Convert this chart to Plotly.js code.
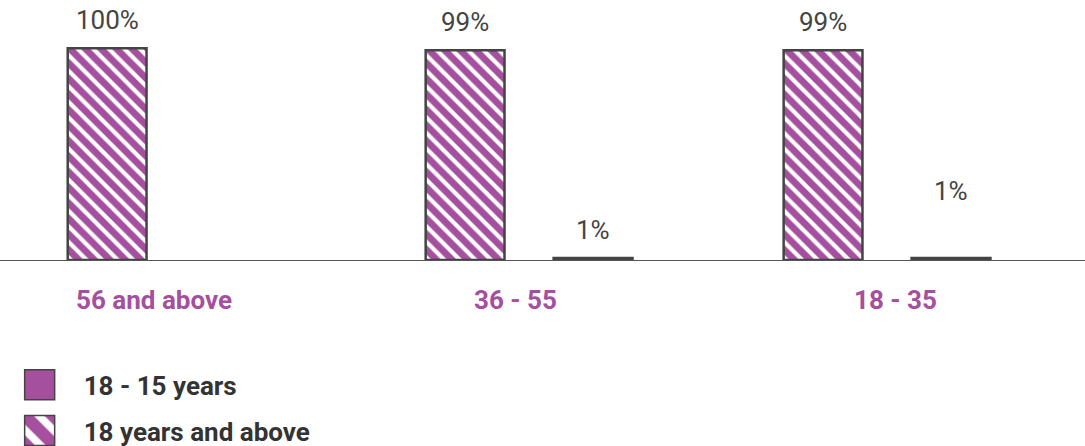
<!DOCTYPE html>
<html>
<head>
<meta charset="utf-8">
<script src="https://cdn.plot.ly/plotly-3.0.1.min.js"></script>
<style>html,body{margin:0;padding:0;background:#fff;}#chart{width:1085px;height:446px;}</style>
</head>
<body>
<div id="chart"></div>
<script>
const categories = ["56 and above", "36 - 55", "18 - 35"];
const seriesNames = ["18 years and above", "18 - 15 years"];
const adultValues = [100, 99, 99];
const youthValues = [null, 1, 1];
const adultLabels = ["100%", "99%", "99%"];
const youthLabels = ["", "1%", "1%"];

const PURPLE = "#A54F9F";
const OUTLINE = "#444444";
const bargap = 0.285;
const bargroupgap = 0.384;

const traces = [
  {
    type: "bar", name: seriesNames[0], x: categories, y: adultValues,
    legendgroup: "a", legendrank: 2, hoverinfo: "skip",
    marker: {
      color: PURPLE,
      line: {color: OUTLINE, width: 2.5},
      pattern: {shape: "\\", bgcolor: "#ffffff", fgcolor: PURPLE, size: 11, solidity: 0.62}
    }
  },
  {
    type: "bar", name: seriesNames[1], x: categories, y: youthValues,
    legendgroup: "b", legendrank: 1, hoverinfo: "skip",
    marker: {color: PURPLE, line: {color: OUTLINE, width: 2.5}}
  }
];

const off = (1 - bargap) / 4;
const labelShift = [[28, 28, 28], [28, 28, 67]];
const catShift = [-17, -14, 8];
const annotations = [];
categories.forEach((c, i) => {
  annotations.push({x: i, y: 0, xref: "x", yref: "y", text: c, showarrow: false,
    yanchor: "middle", yshift: -40, xshift: catShift[i],
    font: {family: "Roboto", size: 26, color: PURPLE, weight: "bold"}});
  if (adultValues[i] != null && adultLabels[i]) {
    annotations.push({x: i - off, y: adultValues[i], xref: "x", yref: "y", text: adultLabels[i],
      showarrow: false, yanchor: "middle", yshift: labelShift[0][i],
      font: {family: "Roboto", size: 26, color: "#444"}});
  }
  if (youthValues[i] != null && youthLabels[i]) {
    annotations.push({x: i + off, y: youthValues[i], xref: "x", yref: "y", text: youthLabels[i],
      showarrow: false, yanchor: "middle", yshift: labelShift[1][i],
      font: {family: "Roboto", size: 26, color: "#444"}});
  }
});

const layout = {
  width: 1085, height: 446,
  margin: {l: 0, r: 0, t: 10, b: 186, autoexpand: false},
  paper_bgcolor: "#fff", plot_bgcolor: "#fff",
  barmode: "group", bargap: bargap, bargroupgap: bargroupgap,
  showlegend: true,
  legend: {
    orientation: "v", x: -0.004, xanchor: "left", y: -0.405, yanchor: "top",
    traceorder: "grouped", tracegroupgap: 9, itemwidth: 78,
    font: {family: "Roboto", size: 26, color: "#333", weight: "bold"}
  },
  xaxis: {
    type: "category", range: [-0.478, 2.553],
    showline: true, linecolor: "#555", linewidth: 1.2,
    ticks: "", showgrid: false, zeroline: false, showticklabels: false
  },
  yaxis: {range: [0, 118], visible: false, showgrid: false, zeroline: false},
  annotations: annotations
};

Plotly.newPlot("chart", traces, layout, {displayModeBar: false, staticPlot: true}).then(() => {
  document.querySelectorAll(".legend .legendpoints path").forEach(p => {
    const t = p.getAttribute("transform") || "";
    p.setAttribute("transform", t + " scale(2.5)");
    p.style.strokeWidth = "0.6px";
  });
});
</script>
</body>
</html>
